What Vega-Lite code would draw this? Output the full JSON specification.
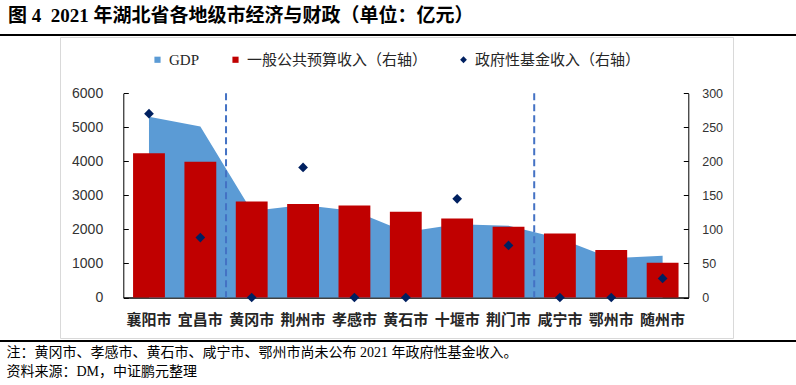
{
  "$schema": "https://vega.github.io/schema/vega-lite/v6.json",
  "width": 673,
  "height": 301,
  "autosize": {"type": "none"},
  "padding": {"left": 60, "top": 37, "right": 63, "bottom": 47},
  "background": "white",
  "config": {
    "view": {"stroke": "#d9d9d9", "strokeWidth": 1},
    "font": "Noto Sans CJK SC"
  },
  "title": {
    "text": "图 4\u20022021 年湖北省各地级市经济与财政（单位：亿元）",
    "anchor": "start",
    "frame": "group",
    "dx": -52,
    "offset": 8,
    "font": "Liberation Serif, Noto Sans CJK SC",
    "fontSize": 19,
    "fontWeight": "bold",
    "color": "#000000"
  },
  "data": {
    "values": [
      {"city": "襄阳市", "gdp": 5309, "budget": 212, "fund": 270},
      {"city": "宜昌市", "gdp": 5023, "budget": 199.5, "fund": 88},
      {"city": "黄冈市", "gdp": 2541, "budget": 141, "fund": 0},
      {"city": "荆州市", "gdp": 2716, "budget": 137.5, "fund": 191},
      {"city": "孝感市", "gdp": 2540, "budget": 135, "fund": 0},
      {"city": "黄石市", "gdp": 1925, "budget": 126, "fund": 0},
      {"city": "十堰市", "gdp": 2155, "budget": 116, "fund": 145},
      {"city": "荆门市", "gdp": 2110, "budget": 104, "fund": 76.5},
      {"city": "咸宁市", "gdp": 1733, "budget": 94, "fund": 0},
      {"city": "鄂州市", "gdp": 1150, "budget": 69.7, "fund": 0},
      {"city": "随州市", "gdp": 1225, "budget": 51, "fund": 28}
    ]
  },
  "layer": [
    {
      "layer": [
        {
          "mark": {"type": "area", "interpolate": "linear"},
          "encoding": {
            "x": {
              "field": "city",
              "type": "nominal",
              "sort": null,
              "scale": {
                "domain": ["襄阳市", "宜昌市", "黄冈市", "荆州市", "孝感市", "黄石市", "十堰市", "荆门市", "咸宁市", "鄂州市", "随州市"],
                "range": [63.3, 628.3],
                "paddingInner": 0,
                "paddingOuter": 0
              },
              "axis": {
                "orient": "bottom",
                "offset": -40.5,
                "ticks": false,
                "domainColor": "#000000",
                "domainWidth": 1.3,
                "labelAngle": 0,
                "labelFont": "Noto Sans CJK SC",
                "labelFontSize": 15,
                "labelFontWeight": "bold",
                "labelColor": "#262626",
                "labelPadding": 15,
                "title": ["注：黄冈市、孝感市、黄石市、咸宁市、鄂州市尚未公布 2021 年政府性基金收入。", "资料来源：DM，中证鹏元整理"],
                "titleFont": "Liberation Serif, Noto Sans CJK SC",
                "titleFontSize": 14,
                "titleFontWeight": "normal",
                "titleColor": "#000000",
                "titleAlign": "left",
                "titleAnchor": "start",
                "titleBaseline": "alphabetic",
                "titleX": -54,
                "titleY": 59,
                "titleLineHeight": 19
              }
            },
            "y": {
              "field": "gdp",
              "type": "quantitative",
              "scale": {"domain": [0, 6000], "range": [260.5, 56.3], "nice": false},
              "axis": {
                "orient": "left",
                "offset": -63.3,
                "values": [0, 1000, 2000, 3000, 4000, 5000, 6000],
                "format": "d",
                "grid": false,
                "title": null,
                "domainColor": "#000000",
                "tickColor": "#000000",
                "tickSize": -5,
                "labelPadding": 25.6,
                "labelFont": "Liberation Sans",
                "labelFontSize": 14,
                "labelColor": "#333333"
              }
            },
            "color": {
              "datum": "GDP",
              "type": "nominal",
              "scale": {
                "domain": ["GDP", "一般公共预算收入（右轴）", "政府性基金收入（右轴）"],
                "range": ["#5B9BD5", "#C00000", "#002060"]
              },
              "legend": {
                "orient": "none",
                "legendX": 90,
                "legendY": 15,
                "direction": "horizontal",
                "title": null,
                "padding": 0,
                "labelFont": "Liberation Serif, Noto Sans CJK SC",
                "labelFontSize": 15,
                "labelColor": "#262626",
                "labelLimit": 400,
                "labelOffset": 4,
                "columnPadding": 28,
                "symbolSize": 38,
                "symbolType": "square",
                "symbolStrokeWidth": 0,
                "encode": {
                  "symbols": {
                    "update": {
                      "shape": {"signal": "datum.value === '政府性基金收入（右轴）' ? 'diamond' : 'square'"},
                      "size": {"signal": "datum.value === '政府性基金收入（右轴）' ? 46 : 38"}
                    }
                  }
                }
              }
            }
          }
        },
        {
          "data": {"values": [{"city": "黄冈市"}, {"city": "咸宁市"}]},
          "mark": {"type": "rule", "color": "#4472C4", "strokeWidth": 2, "strokeDash": [7, 4]},
          "encoding": {
            "x": {"field": "city", "type": "nominal", "bandPosition": 0},
            "y": {"datum": 6000, "type": "quantitative"},
            "y2": {"datum": 0}
          }
        },
        {
          "mark": {"type": "rule", "color": "#000000", "strokeWidth": 1.5},
          "encoding": {
            "x": {"datum": "襄阳市", "type": "nominal", "bandPosition": -2.41},
            "x2": {"datum": "随州市", "bandPosition": 3.11},
            "y": {"datum": 7710, "type": "quantitative"}
          }
        },
        {
          "mark": {"type": "rule", "color": "#000000", "strokeWidth": 1.5},
          "encoding": {
            "x": {"datum": "襄阳市", "type": "nominal", "bandPosition": -2.41},
            "x2": {"datum": "随州市", "bandPosition": 3.11},
            "y": {"datum": -1270, "type": "quantitative"}
          }
        }
      ]
    },
    {
      "layer": [
        {
          "mark": {"type": "bar", "width": {"band": 0.62}},
          "encoding": {
            "x": {"field": "city", "type": "nominal", "sort": null},
            "y": {
              "field": "budget",
              "type": "quantitative",
              "scale": {"domain": [0, 300], "range": [260.5, 56.3], "nice": false},
              "axis": {
                "orient": "right",
                "offset": -44.7,
                "values": [0, 50, 100, 150, 200, 250, 300],
                "grid": false,
                "title": null,
                "domainColor": "#000000",
                "tickColor": "#000000",
                "tickSize": -5,
                "labelPadding": 18.4,
                "labelFont": "Liberation Sans",
                "labelFontSize": 12.5,
                "labelColor": "#333333"
              }
            },
            "color": {"datum": "一般公共预算收入（右轴）", "type": "nominal"}
          }
        },
        {
          "mark": {"type": "point", "shape": "diamond", "filled": true, "size": 95, "opacity": 1},
          "encoding": {
            "x": {"field": "city", "type": "nominal", "sort": null},
            "y": {"field": "fund", "type": "quantitative"},
            "color": {"datum": "政府性基金收入（右轴）", "type": "nominal"}
          }
        }
      ]
    }
  ],
  "resolve": {"scale": {"y": "independent"}}
}
